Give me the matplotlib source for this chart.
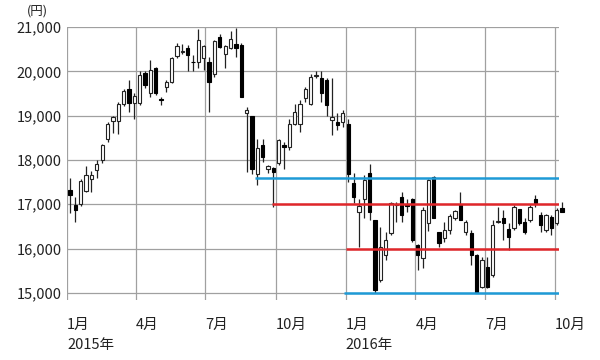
import numpy as np
import pandas as pd
import matplotlib
matplotlib.use('Agg')
import matplotlib.pyplot as plt
import matplotlib.dates as mdates

plt.rcParams['font.family'] = ['Noto Sans CJK JP', 'DejaVu Sans']

################################################################################
# Data (weekly candles)
################################################################################
weeks = pd.date_range('2015-01-05', '2016-10-10', freq='7D')

opens = [17330, 16990, 17000, 17290, 17560, 17780, 18010, 18480, 18870, 18870,
         19260, 19590, 19290, 19290, 19960, 19510, 20070, 19380, 19640, 19750,
         20340, 20440, 20520, 20220, 20200, 20300, 20220, 19930, 20780, 20380,
         20520, 20610, 20590, 19050, 19000, 17690, 18330, 17800, 17820, 17920,
         18330, 18290, 18820, 18820, 19390, 19270, 19890, 19860, 19800, 18900,
         18860, 18860,
         18820, 17470, 16820, 17130, 17700, 16640, 15280, 15850, 16350, 16990,
         17160, 17000, 17130, 16070, 15780, 16570, 17610, 16370, 16230, 16410,
         16680, 16980, 16370, 16350, 15850, 15130, 15580, 15400, 16600, 16680,
         16440, 16460, 16890, 16590, 16640, 17130, 16750, 16410, 16710, 16570,
         16910]
highs = [17590, 17160, 17560, 17860, 17750, 18000, 18370, 18860, 19000, 19310,
         19610, 19800, 19510, 20010, 20000, 20260, 20100, 19420, 19800, 20330,
         20640, 20620, 20600, 20370, 20950, 20600, 20330, 20700, 20850, 20600,
         20900, 20970, 20630, 19200, 19000, 18480, 18480, 17880, 17840, 18480,
         18400, 18930, 19270, 19350, 19650, 19950, 20000, 20000, 19840, 19840,
         19050, 19120,
         18930, 17700, 17130, 17650, 17900, 16640, 16480, 16370, 17050, 17060,
         17270, 17130, 17150, 16100, 16930, 17580, 17640, 16380, 16590, 16790,
         16880, 17270, 16640, 16410, 15870, 15810, 15810, 16640, 16930, 16860,
         16570, 16980, 16900, 16680, 16980, 17200, 16830, 16790, 16750, 16910,
         17040]
lows = [16800, 16600, 16950, 17280, 17280, 17590, 17920, 18410, 18600, 18580,
        19210, 19080, 18930, 19240, 19620, 19430, 19460, 19230, 19540, 19730,
        20300, 20400, 20000, 20000, 20070, 20030, 19090, 19870, 20520, 20080,
        20500, 20330, 19430, 17730, 17690, 17430, 17950, 17710, 16940, 17880,
        17800, 18220, 18780, 18640, 19310, 19240, 19850, 19310, 19000, 18560,
        18670, 18750,
        17500, 17020, 16030, 16680, 16640, 14990, 15240, 15740, 16300, 16600,
        16600, 16830, 16150, 15510, 15560, 16400, 16680, 16040, 16140, 16340,
        16640, 16640, 16300, 15620, 14990, 15100, 15100, 15360, 16570, 16190,
        15960, 16410, 16530, 16320, 16600, 16930, 16380, 16380, 16300, 16530,
        16820]
closes = [17200, 16880, 17520, 17670, 17650, 17900, 18330, 18800, 18970, 19260,
          19560, 19290, 19440, 19920, 19680, 20030, 19510, 19360, 19750, 20300,
          20570, 20460, 20370, 20200, 20700, 20570, 19770, 20680, 20550, 20580,
          20740, 20520, 19430, 19120, 17800, 18260, 18070, 17860, 17730, 18440,
          18290, 18820, 19080, 19270, 19610, 19880, 19920, 19500, 19240, 18970,
          18780, 19060,
          17690, 17160, 16950, 17540, 16820, 15060, 16030, 16190, 17020, 17010,
          16750, 16960, 16190, 15850, 16860, 17540, 16700, 16120, 16410, 16730,
          16840, 16640, 16590, 15850, 14990, 15740, 15130, 16530, 16630, 16570,
          16260, 16930, 16570, 16370, 16930, 17020, 16530, 16750, 16460, 16860,
          16820]

# support / resistance lines: level, start, end
blue_levels = [17600, 15000]
blue_starts = ['2015-09-04', '2015-12-29']
red_levels = [17000, 16000]
red_starts = ['2015-09-26', '2016-01-01']
line_end = '2016-10-06'

quarter_ticks = pd.to_datetime(['2015-01-01', '2015-04-01', '2015-07-01', '2015-10-01',
                                '2016-01-01', '2016-04-01', '2016-07-01', '2016-10-01'])
quarter_labels = ['1月\n2015年', '4月', '7月', '10月', '1月\n2016年', '4月', '7月', '10月']

################################################################################
# Plot
################################################################################
fig = plt.figure(figsize=(6, 3.6), dpi=100)
ax = fig.add_axes([0.1117, 0.1667, 0.82, 0.7583])

x = mdates.date2num(weeks)
o = np.array(opens)
h = np.array(highs)
l = np.array(lows)
c = np.array(closes)
up = c >= o

ax.vlines(x, l, h, color='#222222', lw=0.9, zorder=3, clip_on=False)
bottom = np.minimum(o, c)
height = np.maximum(np.abs(c - o), 18)
ax.bar(x[up], height[up], bottom=bottom[up], width=4.3, color='white',
       edgecolor='#222222', lw=0.8, zorder=4, clip_on=False)
ax.bar(x[~up], height[~up], bottom=bottom[~up], width=4.3, color='black',
       edgecolor='black', lw=0.8, zorder=4, clip_on=False)

end = mdates.date2num(pd.Timestamp(line_end))
for lev, st in zip(blue_levels, blue_starts):
    ax.hlines(lev, mdates.date2num(pd.Timestamp(st)), end, color='#1e9ad6', lw=1.8, zorder=5)
for lev, st in zip(red_levels, red_starts):
    ax.hlines(lev, mdates.date2num(pd.Timestamp(st)), end, color='#e0262a', lw=1.8, zorder=5)

ax.set_xlim(mdates.date2num(pd.Timestamp('2015-01-01')), end)
ax.set_ylim(14840, 21000)

ax.set_yticks(np.arange(15000, 21001, 1000))
ax.set_yticklabels(['{:,}'.format(v) for v in range(15000, 21001, 1000)])
ax.set_xticks(mdates.date2num(quarter_ticks))
ax.set_xticklabels(quarter_labels, ha='left', linespacing=1.5)

ax.grid(True, color='#a0a0a0', lw=0.9)
ax.set_axisbelow(True)
for s in ax.spines.values():
    s.set_visible(False)
ax.tick_params(axis='both', length=0, labelsize=10.5, colors='#222222')
ax.tick_params(axis='x', pad=13)
ax.tick_params(axis='y', pad=4)

fig.text(0.045, 0.968, '(円)', fontsize=9, color='#222222', va='center')

fig.savefig('out.png', dpi=100)
